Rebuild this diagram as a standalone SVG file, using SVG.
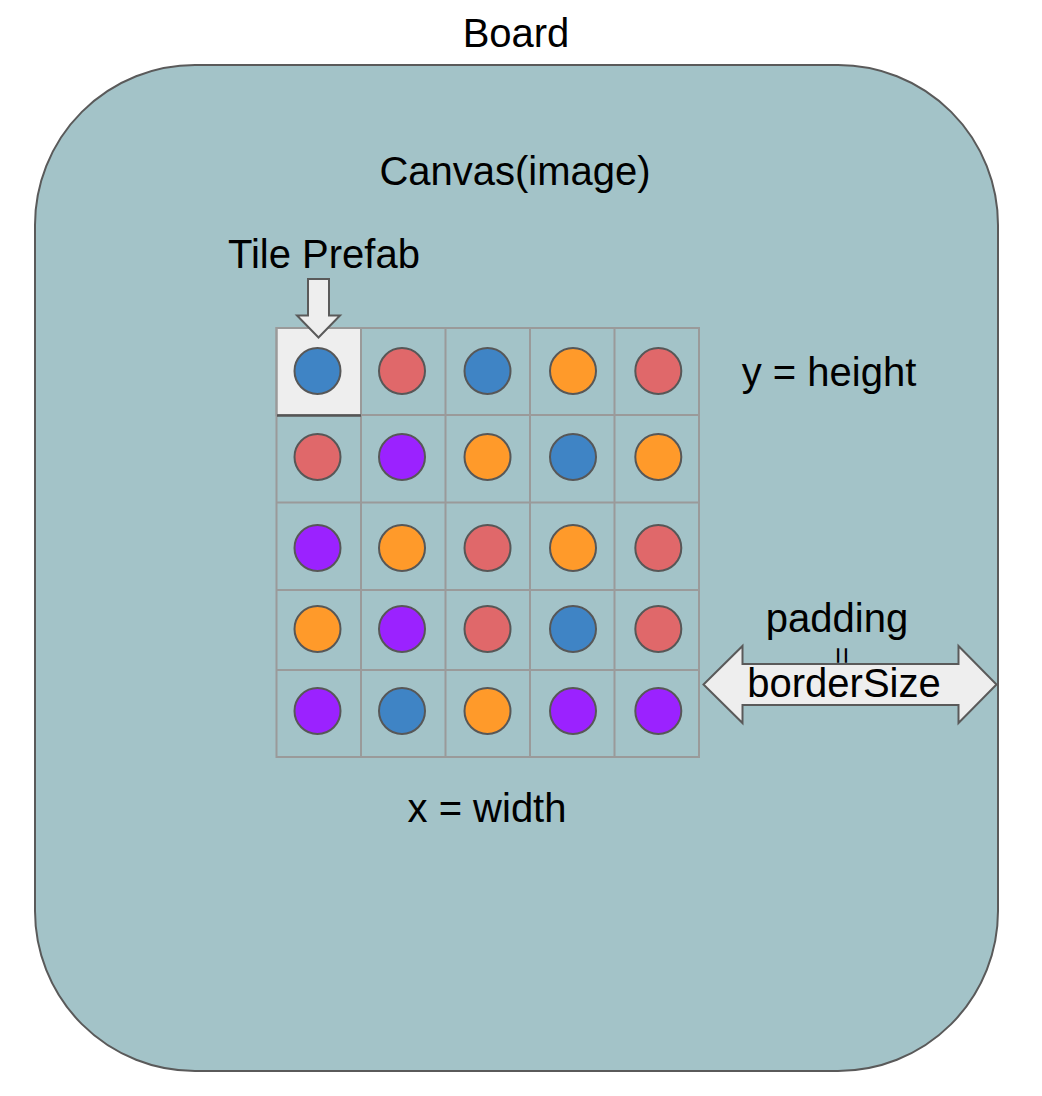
<svg xmlns="http://www.w3.org/2000/svg" width="1042" height="1096" viewBox="0 0 1042 1096">
<style>
  text { font-family: "Liberation Sans", Arial, sans-serif; font-size: 40px; fill: #000; text-anchor: middle; }
  .grid { fill: none; stroke: #9a9a9a; stroke-width: 2; }
  .dot { stroke: #575757; stroke-width: 2; }
  .blue { fill: #3f84c5; }
  .red { fill: #e0686a; }
  .orange { fill: #ff9a2a; }
  .purple { fill: #9b22ff; }
  .arrow { fill: #eeeeee; stroke: #5a5a5a; stroke-width: 2; stroke-linejoin: miter; }
</style>
<rect width="1042" height="1096" fill="#ffffff"/>
<g id="board">
  <rect x="35" y="65" width="963" height="1006" rx="160" ry="160" fill="#a3c3c8" stroke="#5a5a5a" stroke-width="2"/>
  <text x="516" y="47">Board</text>
  <text x="515" y="185">Canvas(image)</text>
</g>
<g id="grid">
  <rect x="276.5" y="328" width="84.5" height="87" fill="#eeeeee" stroke="#9a9a9a" stroke-width="2"/>
  <path class="grid" d="M276.5 328 H699 V757 H276.5 Z M361 328 V757 M445.5 328 V757 M530 328 V757 M614.5 328 V757 M276.5 415 H699 M276.5 502.5 H699 M276.5 590 H699 M276.5 670 H699"/>
  <line x1="277" y1="415.5" x2="361" y2="415.5" stroke="#555" stroke-width="2.5"/>
</g>
<g id="tiles">
  <circle class="dot blue" cx="317.5" cy="371" r="23"/>
  <circle class="dot red" cx="402" cy="371" r="23"/>
  <circle class="dot blue" cx="487.5" cy="371" r="23"/>
  <circle class="dot orange" cx="573" cy="371" r="23"/>
  <circle class="dot red" cx="658.3" cy="371" r="23"/>

  <circle class="dot red" cx="317.5" cy="457" r="23"/>
  <circle class="dot purple" cx="402" cy="457" r="23"/>
  <circle class="dot orange" cx="487.5" cy="457" r="23"/>
  <circle class="dot blue" cx="573" cy="457" r="23"/>
  <circle class="dot orange" cx="658.3" cy="457" r="23"/>

  <circle class="dot purple" cx="317.5" cy="548" r="23"/>
  <circle class="dot orange" cx="402" cy="548" r="23"/>
  <circle class="dot red" cx="487.5" cy="548" r="23"/>
  <circle class="dot orange" cx="573" cy="548" r="23"/>
  <circle class="dot red" cx="658.3" cy="548" r="23"/>

  <circle class="dot orange" cx="317.5" cy="629" r="23"/>
  <circle class="dot purple" cx="402" cy="629" r="23"/>
  <circle class="dot red" cx="487.5" cy="629" r="23"/>
  <circle class="dot blue" cx="573" cy="629" r="23"/>
  <circle class="dot red" cx="658.3" cy="629" r="23"/>

  <circle class="dot purple" cx="317.5" cy="711" r="23"/>
  <circle class="dot blue" cx="402" cy="711" r="23"/>
  <circle class="dot orange" cx="487.5" cy="711" r="23"/>
  <circle class="dot purple" cx="573" cy="711" r="23"/>
  <circle class="dot purple" cx="658.3" cy="711" r="23"/>
</g>
<g id="tile-prefab">
  <text x="324" y="268">Tile Prefab</text>
  <path class="arrow" d="M308 279 H329 V315.5 H340 L318.5 337.5 L297 315.5 H308 Z"/>
</g>
<g id="labels">
  <text x="829" y="386">y = height</text>
  <text x="487" y="822">x = width</text>
</g>
<g id="padding">
  <path class="arrow" d="M703.5 684.5 L742.5 646 V664 H958.5 V646 L996.5 684.5 L958.5 723 V705 H742.5 V723 Z"/>
  <text x="837" y="632">padding</text>
  <text x="0" y="0" transform="translate(842 655.5) rotate(90)" dominant-baseline="central" style="font-size:30px">=</text>
  <text x="844" y="697">borderSize</text>
</g>
</svg>
